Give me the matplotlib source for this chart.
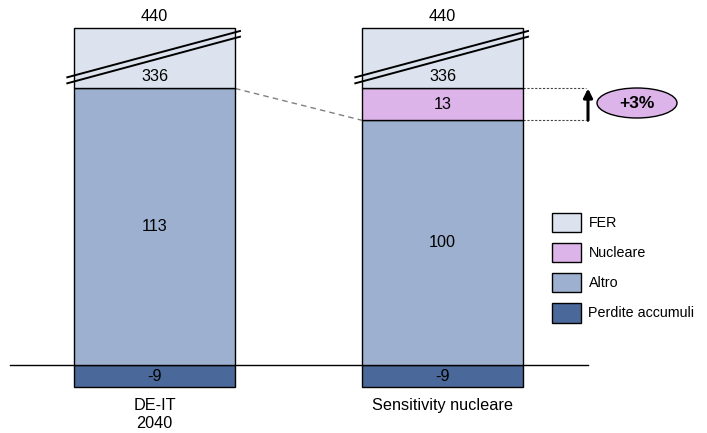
import numpy as np
import matplotlib
matplotlib.use("Agg")
import matplotlib.pyplot as plt
from matplotlib.patches import Patch, Ellipse
from matplotlib.lines import Line2D

plt.rcParams['font.family'] = ['Liberation Sans', 'DejaVu Sans']

# ---------------- data ----------------
categories = ["DE-IT\n2040", "Sensitivity nucleare"]
perdite = [-9, -9]
altro = [113, 100]
nucleare = [0, 13]
fer = [336, 336]
totals = [440, 440]
delta_label = "+3%"
series_names = ["FER", "Nucleare", "Altro", "Perdite accumuli"]

# ---------------- style ----------------
C_FER = "#DCE3EE"
C_NUC = "#DDB4EA"
C_ALT = "#9DB0CF"
C_PER = "#4A6899"
FS = 11.7
FS_LEG = 10.3

# broken-axis scale (compress the middle of the FER segment)
A, B, K = 125.0, 437.0, 0.002
tA, tB = A, A + (B - A) * K


def fwd(y):
    y = np.asarray(y, dtype=float)
    return np.where(y <= A, y, np.where(y >= B, tB + (y - B), A + (y - A) * K))


def inv(t):
    t = np.asarray(t, dtype=float)
    return np.where(t <= tA, t, np.where(t >= tB, B + (t - tB), A + (t - A) / K))


W, H = 707, 433
fig = plt.figure(figsize=(W / 100, H / 100), dpi=100)
ax = fig.add_axes([0, 0, 1, 1])
ax.set_yscale('function', functions=(fwd, inv))

PX_X = 288.0      # px per x unit
PX_Y = 2.45       # px per y unit
X0 = 154.5        # px of bar 0 centre
Y0 = 365.3        # px of zero line
ax.set_xlim(-X0 / PX_X, (W - X0) / PX_X)
ax.set_ylim(-(H - Y0) / PX_Y, float(inv((Y0) / PX_Y)))
ax.axis('off')

x = np.arange(len(categories))
bw = 161 / PX_X
ekw = dict(edgecolor='black', linewidth=1.0, zorder=3)

pos_base = np.zeros(len(x))
ax.bar(x, perdite, width=bw, color=C_PER, **ekw)
ax.bar(x, altro, width=bw, bottom=pos_base, color=C_ALT, **ekw)
b_nuc = pos_base + np.array(altro)
ax.bar(x[1:], np.array(nucleare)[1:], width=bw, bottom=b_nuc[1:], color=C_NUC, **ekw)
b_fer = b_nuc + np.array(nucleare)
ax.bar(x, fer, width=bw, bottom=b_fer, color=C_FER, **ekw)
top = b_fer + np.array(fer)

# zero line
ax.plot([(10 - X0) / PX_X, (588 - X0) / PX_X], [0, 0], color='black', lw=1.0, zorder=2)

# value labels
for i in range(len(x)):
    ax.text(x[i], perdite[i] / 2, f"{perdite[i]}", ha='center', va='center', fontsize=FS, zorder=5)
    ax.text(x[i], altro[i] / 2, f"{altro[i]}", ha='center', va='center', fontsize=FS, zorder=5)
    if nucleare[i]:
        ax.text(x[i], b_nuc[i] + nucleare[i] / 2, f"{nucleare[i]}", ha='center', va='center',
                fontsize=FS, zorder=5)
    ax.annotate(f"{fer[i]}", xy=(x[i], b_fer[i]), xytext=(0, 8.3), textcoords='offset points',
                ha='center', va='center', fontsize=FS, zorder=5)
    ax.annotate(f"{totals[i]}", xy=(x[i], top[i]), xytext=(0, 4.8), textcoords='offset points',
                ha='center', va='baseline', fontsize=FS, zorder=5)
    ax.annotate(categories[i], xy=(x[i], perdite[i]), xytext=(0, -8.0), textcoords='offset points',
                ha='center', va='top', fontsize=FS, linespacing=1.18, zorder=5)

# break marks (figure pixel coordinates)
def fp(px, py):
    return px / W, 1 - py / H

for dx in (0, 288):
    for (y1, y2) in ((77.3, 31.0), (83.3, 36.7)):
        (xa, ya), (xb, yb) = fp(67.3 + dx, y1), fp(240 + dx, y2)
        fig.add_artist(Line2D([xa, xb], [ya, yb], transform=fig.transFigure,
                              color='black', lw=1.4, zorder=6))

# dashed connector between Altro tops
ax.plot([x[0] + bw / 2, x[1] - bw / 2], [altro[0], altro[1]], color='#808080', lw=1.0,
        linestyle=(0, (4, 3)), zorder=2)

# dotted guides for Nucleare band
xr = x[1] + bw / 2
xe = (586 - X0) / PX_X
for yv in (b_nuc[1], b_fer[1]):
    ax.plot([xr, xe], [yv, yv], color='#444444', lw=0.8, linestyle=(0, (2, 1.5)), zorder=2)

# arrow
xa_ = (588 - X0) / PX_X
ax.annotate('', xy=(xa_, b_fer[1]), xytext=(xa_, b_nuc[1]),
            arrowprops=dict(arrowstyle='-|>', lw=2.2, color='black', mutation_scale=13,
                            shrinkA=0, shrinkB=0), zorder=6)

# ellipse with delta label
ex = (637 - X0) / PX_X
ey = (Y0 - 103) / PX_Y
ell = Ellipse((ex, ey), width=80 / PX_X, height=30 / PX_Y, facecolor=C_NUC,
              edgecolor='black', lw=1.0, zorder=5)
ax.add_patch(ell)
ax.text(ex, ey, delta_label, ha='center', va='center', fontsize=12.5, fontweight='bold', zorder=6)

# legend
handles = [Patch(facecolor=c, edgecolor='black', lw=1.0) for c in (C_FER, C_NUC, C_ALT, C_PER)]
leg = ax.legend(handles, series_names, loc='upper left', bbox_to_anchor=(552 / W, 1 - 212.5 / H),
                bbox_transform=fig.transFigure, frameon=False, fontsize=FS_LEG,
                handlelength=2.0, handleheight=1.75, labelspacing=0.72, handletextpad=0.55,
                borderpad=0, borderaxespad=0)

fig.savefig("out.png", dpi=100)
